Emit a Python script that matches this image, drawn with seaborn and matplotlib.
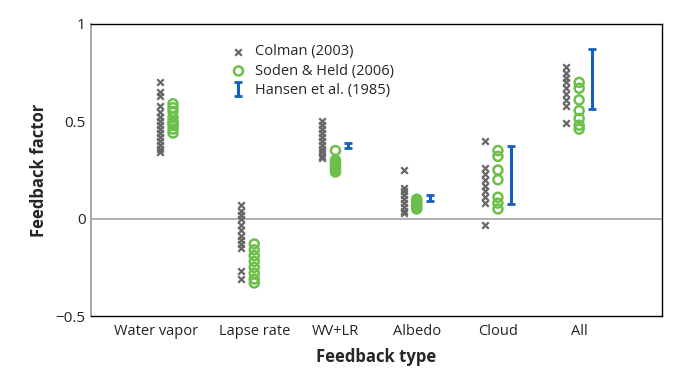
import numpy as np
import pandas as pd
import seaborn as sns
import matplotlib.pyplot as plt
from matplotlib.transforms import ScaledTranslation

categories = ["Water vapor", "Lapse rate", "WV+LR", "Albedo", "Cloud", "All"]

# Colman (2003) values per feedback type
colman = [
    [0.70, 0.65, 0.63, 0.58, 0.55, 0.52, 0.50, 0.48, 0.46, 0.44, 0.42, 0.40, 0.38, 0.36, 0.34],
    [0.07, 0.04, 0.02, 0.00, -0.03, -0.06, -0.09, -0.11, -0.13, -0.15, -0.27, -0.31],
    [0.50, 0.48, 0.46, 0.44, 0.42, 0.40, 0.38, 0.36, 0.34, 0.32, 0.31],
    [0.25, 0.16, 0.14, 0.12, 0.10, 0.08, 0.06, 0.04, 0.03],
    [0.40, 0.26, 0.23, 0.20, 0.17, 0.14, 0.11, 0.08, -0.03],
    [0.78, 0.75, 0.72, 0.70, 0.67, 0.64, 0.61, 0.58, 0.49],
]
# Soden & Held (2006)
soden = [
    [0.59, 0.57, 0.55, 0.52, 0.50, 0.49, 0.48, 0.46, 0.44],
    [-0.13, -0.16, -0.19, -0.22, -0.25, -0.28, -0.31, -0.33],
    [0.35, 0.30, 0.29, 0.28, 0.27, 0.26, 0.25, 0.24],
    [0.10, 0.09, 0.08, 0.07, 0.06, 0.05],
    [0.35, 0.32, 0.25, 0.20, 0.11, 0.08, 0.05],
    [0.70, 0.67, 0.61, 0.555, 0.515, 0.48, 0.46],
]
# Hansen et al. (1985) ranges
hansen_cats = ["WV+LR", "Albedo", "Cloud", "All"]
hansen_low = [0.365, 0.09, 0.075, 0.565]
hansen_high = [0.39, 0.12, 0.375, 0.87]

grey = "#666666"
green = "#6cc04a"
blue = "#1560bd"

sns.set_style("white")
plt.rcParams['font.family'] = ['Open Sans', 'DejaVu Sans']

rows = []
for i, cat in enumerate(categories):
    for v in colman[i]:
        rows.append(("Colman (2003)", i - 0.16, v))
    for v in soden[i]:
        rows.append(("Soden & Held (2006)", i, v))
df = pd.DataFrame(rows, columns=["source", "x", "value"])

fig = plt.figure(figsize=(6.82, 3.9), dpi=100)
ax = fig.add_axes([0.1334, 0.1897, 0.8373, 0.7488])

ax.axhline(0, color="#aaaaaa", lw=1.3, zorder=1)

c = df[df.source == "Colman (2003)"]
sns.scatterplot(x=c.x, y=c.value, marker="x", color=grey, s=22, linewidth=1.6,
                label="Colman (2003)", ax=ax, zorder=3)
s = df[df.source == "Soden & Held (2006)"]
sns.scatterplot(x=s.x, y=s.value, marker="o", facecolor="none", edgecolor=green,
                s=42, linewidth=1.8, label="Soden & Held (2006)", ax=ax, zorder=3)

hx = np.array([categories.index(h) for h in hansen_cats]) + 0.16
lo = np.array(hansen_low)
hi = np.array(hansen_high)
ax.errorbar(hx, (lo + hi) / 2, yerr=(hi - lo) / 2, fmt="none", ecolor=blue,
            elinewidth=2.2, capsize=3.2, capthick=2, label="Hansen et al. (1985)", zorder=3)

ax.set_xlim(-1.01, 6.02)
ax.set_ylim(-0.5, 1)
ax.set_xticks(range(len(categories)))
ax.set_xticklabels(categories, fontsize=10.5, color="#222222")
ax.set_yticks([-0.5, 0, 0.5, 1])
ax.set_yticklabels(["\u22120.5", "0", "0.5", "1"], fontsize=11, color="#222222")
ax.tick_params(axis="both", direction="in", length=4, width=0.8, color="#555555", pad=4)
ax.tick_params(axis="x", pad=6)

# the first category label sits a little left of its tick
first = ax.get_xticklabels()[0]
first.set_transform(first.get_transform() + ScaledTranslation(-0.17, 0, fig.dpi_scale_trans))

for side in ["top", "right", "bottom"]:
    ax.spines[side].set_color("black")
    ax.spines[side].set_linewidth(1.0)
ax.spines["left"].set_color("#999999")
ax.spines["left"].set_linewidth(1.2)

ax.set_xlabel("Feedback type", fontsize=12, fontweight="bold", labelpad=6)
ax.set_ylabel("Feedback factor", fontsize=12, fontweight="bold", labelpad=5)

leg = ax.legend(loc="upper left", bbox_to_anchor=(0.22, 0.975), frameon=False,
                fontsize=10.5, handletextpad=0.5, labelspacing=0.3, handlelength=1.2)

fig.savefig("out.png", dpi=100)
